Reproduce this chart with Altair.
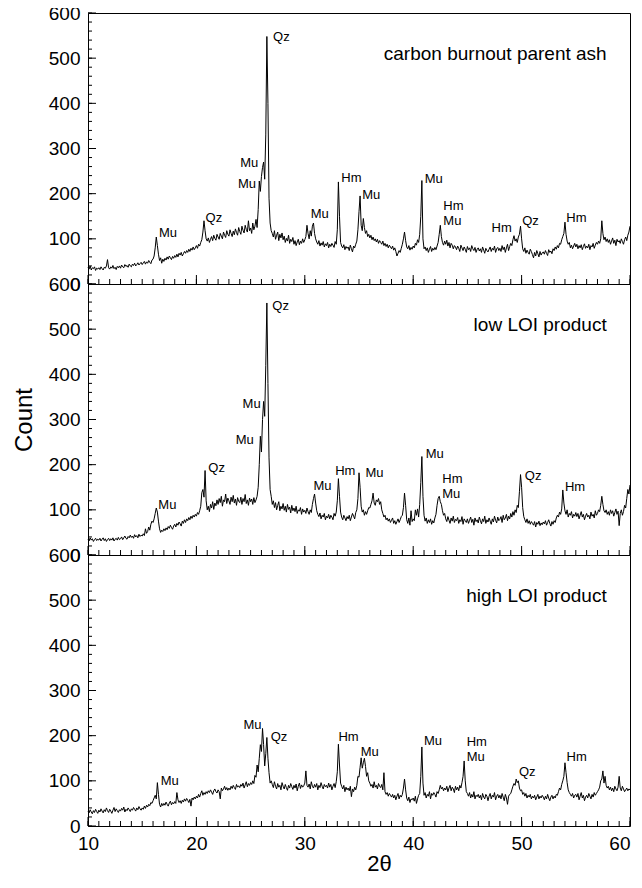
import altair as alt
import pandas as pd

# ---------------- data (2theta sampled every 0.1 deg from 10 to 60) ----------------
X_START = 10.0
X_STEP = 0.1

parent_ash = [
    37, 33, 40, 31, 36, 34, 38, 30, 35, 33,
    36, 32, 38, 34, 31, 37, 35, 40, 54, 36,
    33, 38, 35, 41, 34, 37, 32, 39, 36, 40,
    35, 42, 38, 36, 43, 39, 41, 37, 44, 40,
    38, 44, 41, 46, 40, 43, 47, 42, 45, 48,
    43, 47, 50, 44, 49, 46, 52, 48, 45, 53,
    55, 62, 80, 104, 85, 66, 52, 58, 46, 55,
    50, 57, 53, 60, 55, 62, 58, 54, 61, 57,
    63, 59, 66, 60, 68, 64, 70, 62, 67, 72,
    68, 74, 70, 77, 72, 79, 75, 82, 76, 80,
    85, 79, 88, 84, 92, 98, 115, 140, 118, 100,
    95, 102, 92, 99, 105, 96, 108, 101, 97, 110,
    104, 99, 112, 106, 100, 115, 108, 103, 118, 110,
    106, 120, 112, 105, 117, 109, 122, 114, 108, 125,
    116, 110, 128, 119, 113, 130, 121, 115, 140, 118,
    124, 112, 135, 120, 128, 143, 125, 165, 228, 205,
    238, 258, 270, 232, 330, 548, 400, 190, 135, 118,
    112, 104, 118, 99, 108, 115, 96, 110, 102, 113,
    98, 106, 92, 101, 95, 108, 90, 99, 94, 103,
    88, 96, 85, 93, 99, 87, 95, 90, 100, 92,
    98, 105, 130, 112, 100, 118, 106, 128, 135, 112,
    100, 93, 88, 96, 84, 91, 86, 94, 82, 89,
    85, 92, 80, 88, 83, 90, 86, 81, 94, 88,
    120, 226, 150, 92, 84, 80, 87, 76, 83, 79,
    82, 74, 86, 78, 71, 84, 80, 88, 95, 120,
    160, 195, 130, 118, 145, 125, 112, 118, 105, 110,
    102, 108, 98, 104, 96, 100, 93, 99, 90, 96,
    92, 88, 95, 85, 90, 83, 88, 80, 86, 82,
    78, 84, 75, 80, 72, 62, 68, 74, 70, 79,
    88, 100, 115, 96, 82, 78, 85, 75, 81, 77,
    84, 80, 90, 86, 98, 92, 110, 150, 229, 100,
    78, 82, 74, 80, 70, 77, 83, 72, 79, 75,
    81, 76, 84, 92, 110, 130, 105, 92, 86, 95,
    88, 97, 84, 92, 80, 90, 86, 78, 85, 82,
    76, 84, 79, 72, 86, 80, 74, 82, 77, 70,
    83, 76, 80, 72, 85, 78, 74, 81, 70, 77,
    80, 73, 78, 70, 82, 75, 68, 79, 74, 71,
    77, 82, 72, 79, 75, 84, 70, 78, 81, 74,
    79, 72, 85, 76, 82, 70, 80, 88, 74, 83,
    90, 85, 98, 107, 95, 100, 92, 104, 110, 128,
    100, 78, 72, 80, 68, 75, 70, 66, 77, 72,
    65, 58, 70, 62, 74, 67, 60, 72, 64, 69,
    71, 66, 74, 68, 63, 76, 70, 73, 67, 78,
    74, 82, 77, 85, 80, 90, 88, 98, 105, 112,
    137, 110, 95, 88, 92, 80, 86, 78, 84, 90,
    82, 88, 78, 85, 80, 87, 76, 83, 89, 79,
    84, 80, 88, 76, 85, 82, 90, 79, 86, 92,
    88, 95, 90, 100, 140, 112, 98, 104, 94, 100,
    92, 98, 88, 95, 102, 90, 97, 85, 99, 93,
    96, 90, 100, 94, 88, 98, 104, 96, 108, 115,
    128,
]

low_loi = [
    35, 31, 38, 33, 36, 30, 34, 37, 32, 35,
    33, 37, 31, 35, 38, 32, 36, 30, 34, 37,
    32, 36, 33, 38, 31, 35, 37, 33, 39, 34,
    36, 40, 34, 38, 42, 37, 35, 41, 38, 44,
    39, 42, 37, 45, 40, 43, 38, 46, 41, 44,
    42, 47, 43, 58, 48, 52, 62, 55, 68, 75,
    72, 80, 92, 104, 95, 75, 58, 50, 55, 52,
    58, 54, 60, 56, 63, 59, 66, 61, 57, 64,
    68, 62, 70, 66, 73, 69, 64, 75, 70, 78,
    72, 80, 76, 83, 78, 86, 81, 88, 84, 90,
    86, 94, 90, 98, 108, 138, 145, 128, 187, 120,
    100, 108, 96, 112, 104, 118, 101, 115, 109, 122,
    112, 125, 116, 130, 108, 122, 118, 135, 114, 126,
    120, 112, 128, 118, 132, 115, 124, 110, 127, 119,
    116, 128, 112, 125, 118, 134, 114, 122, 110, 126,
    118, 124, 112, 127, 116, 122, 130, 150, 200, 263,
    228, 300, 340, 307, 420, 558, 380, 215, 145, 130,
    112, 120, 105, 116, 100, 110, 118, 98, 108, 102,
    114, 99, 108, 95, 112, 101, 106, 93, 110, 98,
    104, 96, 108, 92, 100, 97, 105, 90, 102, 95,
    99, 92, 104, 96, 90, 100, 94, 112, 125, 135,
    115, 98, 90, 85, 93, 80, 88, 84, 92, 78,
    86, 82, 90, 80, 88, 84, 78, 92, 86, 95,
    120, 169, 130, 95, 84, 78, 88, 82, 76, 85,
    80, 88, 76, 84, 92, 86, 80, 94, 100, 125,
    182, 150, 108, 95, 100, 88, 96, 90, 98, 105,
    104, 112, 120, 137, 115, 110, 122, 118, 125, 112,
    118, 100, 92, 84, 88, 78, 82, 75, 80, 72,
    77, 82, 70, 76, 68, 74, 80, 72, 78, 85,
    88, 105, 137, 110, 78, 70, 82, 66, 98, 74,
    80, 76, 100, 88, 102, 84, 112, 160, 218, 130,
    88, 75, 82, 70, 78, 72, 80, 68, 76, 71,
    82, 90, 110, 125, 130, 118, 112, 98, 88, 92,
    80, 74, 85, 77, 70, 82, 75, 86, 72, 79,
    76, 83, 70, 78, 74, 85, 68, 80, 76, 72,
    80, 70, 77, 84, 72, 79, 66, 82, 74, 78,
    71, 84, 76, 69, 80, 74, 86, 70, 78, 73,
    82, 75, 68, 80, 73, 86, 77, 71, 84, 76,
    79, 85, 72, 88, 78, 82, 90, 76, 86, 80,
    92, 84, 96, 88, 100, 94, 110, 105, 140, 178,
    150, 105, 85, 78, 72, 80, 70, 76, 68, 74,
    70, 66, 74, 62, 72, 68, 75, 65, 71, 67,
    73, 69, 76, 66, 72, 78, 70, 64, 74, 68,
    76, 72, 82, 88, 84, 95, 90, 102, 144, 115,
    98, 90, 100, 84, 92, 88, 96, 82, 90, 86,
    94, 85, 92, 80, 88, 96, 84, 90, 78, 86,
    92, 84, 88, 80, 95, 86, 90, 82, 98, 88,
    92, 100, 96, 110, 130, 112, 98, 94, 100, 90,
    96, 88, 100, 92, 98, 86, 94, 102, 90, 97,
    65, 92, 100, 88, 96, 110, 104, 125, 145, 135,
    155,
]

high_loi = [
    33, 29, 36, 31, 27, 34, 30, 37, 32, 28,
    35, 31, 38, 33, 29, 36, 32, 40, 34, 30,
    37, 33, 28, 35, 41, 32, 38, 34, 30, 36,
    33, 39, 35, 42, 31, 37, 34, 40, 36, 32,
    38, 35, 41, 37, 33, 40, 36, 43, 38, 35,
    40, 37, 44, 39, 46, 42, 48, 45, 52, 50,
    56, 62, 68, 60, 96, 70, 48, 42, 50, 45,
    50, 46, 53, 48, 44, 51, 55, 47, 52, 49,
    54, 50, 74, 58, 52, 56, 50, 57, 53, 60,
    55, 61, 57, 52, 59, 44, 62, 58, 64, 60,
    66, 62, 70, 64, 72, 78, 68, 74, 70, 76,
    72, 78, 74, 80, 75, 70, 78, 82, 76, 73,
    80, 76, 60, 84, 78, 82, 88, 80, 85, 79,
    84, 80, 88, 83, 90, 85, 81, 92, 86, 89,
    85, 92, 88, 95, 84, 91, 98, 87, 94, 90,
    96, 92, 100, 94, 112, 108, 135, 120, 150, 180,
    165, 216, 180, 133, 160, 196, 150, 118, 95, 100,
    92, 85, 98, 88, 82, 94, 86, 90, 80, 96,
    88, 82, 92, 85, 79, 90, 84, 94, 87, 81,
    90, 84, 93, 78, 88, 95, 83, 91, 86, 89,
    95, 122, 90, 86, 93, 82, 98, 88, 84, 92,
    86, 94, 80, 90, 85, 96, 88, 82, 92, 87,
    90, 84, 95, 86, 92, 80, 88, 94, 85, 98,
    120, 181, 135, 95, 88, 82, 90, 76, 86, 80,
    84, 78, 88, 65, 82, 76, 86, 80, 90, 110,
    108, 130, 151, 128, 140, 150, 132, 110, 118, 100,
    95, 88, 92, 84, 98, 86, 90, 82, 94, 88,
    85, 92, 80, 118, 76, 70, 74, 66, 72, 68,
    64, 70, 62, 68, 58, 66, 72, 60, 68, 64,
    70, 84, 104, 80, 62, 56, 64, 52, 60, 58,
    62, 55, 66, 50, 60, 68, 72, 110, 175, 95,
    68, 74, 62, 70, 66, 76, 60, 72, 68, 74,
    70, 64, 76, 72, 80, 90, 82, 86, 78, 84,
    80, 88, 76, 84, 90, 78, 86, 82, 74, 88,
    80, 86, 78, 90, 84, 96, 110, 144, 100, 76,
    72, 66, 74, 62, 70, 64, 76, 60, 68, 65,
    70, 62, 68, 58, 72, 64, 60, 70, 66, 56,
    66, 72, 60, 68, 64, 74, 58, 66, 70, 62,
    68, 60, 72, 64, 56, 70, 62, 48, 66, 70,
    72, 80, 88, 94, 90, 104, 96, 100, 84, 78,
    80, 70, 74, 66, 72, 62, 68, 64, 70, 60,
    66, 62, 68, 58, 64, 70, 60, 66, 62, 68,
    64, 58, 66, 60, 70, 62, 56, 64, 68, 60,
    66, 62, 70, 68, 76, 84, 80, 92, 100, 110,
    140, 118, 96, 80, 74, 70, 66, 72, 62, 68,
    70, 64, 72, 58, 66, 74, 62, 68, 56, 64,
    68, 62, 72, 66, 60, 70, 64, 74, 68, 72,
    76, 80, 86, 100, 104, 122, 95, 110, 90, 84,
    88, 80, 86, 78, 84, 76, 88, 82, 78, 86,
    110, 84, 78, 88, 82, 76, 80, 84, 78, 82,
    80,
]

# peak annotations (label, 2theta, count, alignment)
p1_labels = ["Mu", "Qz", "Mu", "Mu", "Qz", "Mu", "Hm", "Mu", "Mu", "Hm", "Mu", "Hm", "Qz", "Hm"]
p1_lx = [16.55, 20.85, 25.7, 25.5, 27.07, 30.54, 33.37, 35.3, 41.06, 42.78, 42.78, 47.23, 50.05, 54.12]
p1_ly = [113, 146, 269, 221, 547, 155, 235, 197, 232, 173, 140, 123, 140, 146]
p1_align = ["left", "left", "right", "right", "left", "left", "left", "left", "left", "left", "left", "left", "left", "left"]

p2_labels = ["Mu", "Qz", "Mu", "Mu", "Qz", "Mu", "Hm", "Mu", "Mu", "Hm", "Mu", "Qz", "Hm"]
p2_lx = [16.49, 21.1, 25.93, 25.3, 27.0, 30.8, 32.8, 35.6, 41.15, 42.68, 42.68, 50.3, 54.0]
p2_ly = [111, 193, 335, 254, 552, 152, 185, 181, 224, 169, 135, 176, 150]
p2_align = ["left", "left", "right", "right", "left", "left", "left", "left", "left", "left", "left", "left", "left"]

p3_labels = ["Mu", "Mu", "Qz", "Hm", "Mu", "Mu", "Hm", "Mu", "Qz", "Hm"]
p3_lx = [16.7, 26.0, 26.85, 33.1, 35.15, 41.0, 44.93, 44.93, 49.76, 54.15]
p3_ly = [100, 223, 196, 196, 164, 189, 185, 152, 120, 153]
p3_align = ["left", "right", "left", "left", "left", "left", "left", "left", "left", "left"]

panel_titles = ["carbon burnout parent ash", "low LOI product", "high LOI product"]
title_x = 57.85
title_y = 510

y_major = [0, 100, 200, 300, 400, 500, 600]
y_minor = list(range(0, 601, 20))
x_major = [10, 20, 30, 40, 50, 60]
x_minor = list(range(10, 61, 1))

# ---------------- layout ----------------
W = 542
H = 271
FONT = "Liberation Sans"

x_vals = [round(X_START + X_STEP * i, 1) for i in range(len(parent_ash))]
xs = alt.Scale(domain=[10, 60], nice=False, zero=False)
ys = alt.Scale(domain=[0, 600], nice=False, zero=False)


def panel(values, labels, lx, ly, lalign, title, show_x, show_ytitle):
    df = pd.DataFrame({"x": x_vals, "y": values})
    if show_x:
        xaxis = alt.Axis(values=x_major, title="2θ", labelFontSize=19, labelPadding=8,
                         ticks=False, domain=False, grid=False, labelFlush=False,
                         labelAlign={"condition": {"test": "datum.value == 60", "value": "right"},
                                     "value": "center"},
                         titleFontSize=22, titleFontWeight="normal", titlePadding=0,
                         titleX=291, labelColor="black", titleColor="black", format="d")
    else:
        xaxis = None
    yaxis = alt.Axis(values=y_major, title="Count" if show_ytitle else None,
                     labelFontSize=19, labelPadding=8, ticks=False, domain=False,
                     grid=False, titleFontSize=24, titleFontWeight="normal",
                     titlePadding=12, labelColor="black", titleColor="black", format="d")

    def X(f):
        return alt.X(f, scale=xs, axis=xaxis)

    def Y(f):
        return alt.Y(f, scale=ys, axis=yaxis)

    line = alt.Chart(df).mark_line(color="black", strokeWidth=1).encode(x=X("x:Q"), y=Y("y:Q"))

    ann = pd.DataFrame({"t": labels, "x": lx, "y": ly, "a": lalign})
    txt_l = alt.Chart(ann[ann.a == "left"]).mark_text(
        align="left", baseline="middle", fontSize=13, font=FONT, color="black"
    ).encode(x=X("x:Q"), y=Y("y:Q"), text="t:N")
    txt_r = alt.Chart(ann[ann.a == "right"]).mark_text(
        align="right", baseline="middle", fontSize=13, font=FONT, color="black"
    ).encode(x=X("x:Q"), y=Y("y:Q"), text="t:N")

    ttl = alt.Chart(pd.DataFrame({"t": [title], "x": [title_x], "y": [title_y]})).mark_text(
        align="right", baseline="middle", fontSize=19, font=FONT, color="black"
    ).encode(x=X("x:Q"), y=Y("y:Q"), text="t:N")

    ymaj = alt.Chart(pd.DataFrame({"y": y_major})).mark_rule(color="black", strokeWidth=1).encode(
        y=Y("y:Q"), x=alt.value(0), x2=alt.value(8))
    ymin = alt.Chart(pd.DataFrame({"y": y_minor})).mark_rule(color="black", strokeWidth=1).encode(
        y=Y("y:Q"), x=alt.value(0), x2=alt.value(4))
    xmaj = alt.Chart(pd.DataFrame({"x": x_major})).mark_rule(color="black", strokeWidth=1).encode(
        x=X("x:Q"), y=alt.value(H), y2=alt.value(H - 9))
    xmin = alt.Chart(pd.DataFrame({"x": x_minor})).mark_rule(color="black", strokeWidth=1).encode(
        x=X("x:Q"), y=alt.value(H), y2=alt.value(H - 5))

    return alt.layer(line, ymin, ymaj, xmin, xmaj, txt_l, txt_r, ttl).properties(width=W, height=H)


p1 = panel(parent_ash, p1_labels, p1_lx, p1_ly, p1_align, panel_titles[0], False, False)
p2 = panel(low_loi, p2_labels, p2_lx, p2_ly, p2_align, panel_titles[1], False, True)
p3 = panel(high_loi, p3_labels, p3_lx, p3_ly, p3_align, panel_titles[2], True, False)

chart = alt.vconcat(p1, p2, p3, spacing=0, bounds="flush").configure(
    font=FONT, padding={"left": 3, "top": -5, "right": 0, "bottom": -1}
).configure_view(
    stroke="black", strokeWidth=1
)

chart.save("out.html", embed_options={"renderer": "svg", "actions": False})
